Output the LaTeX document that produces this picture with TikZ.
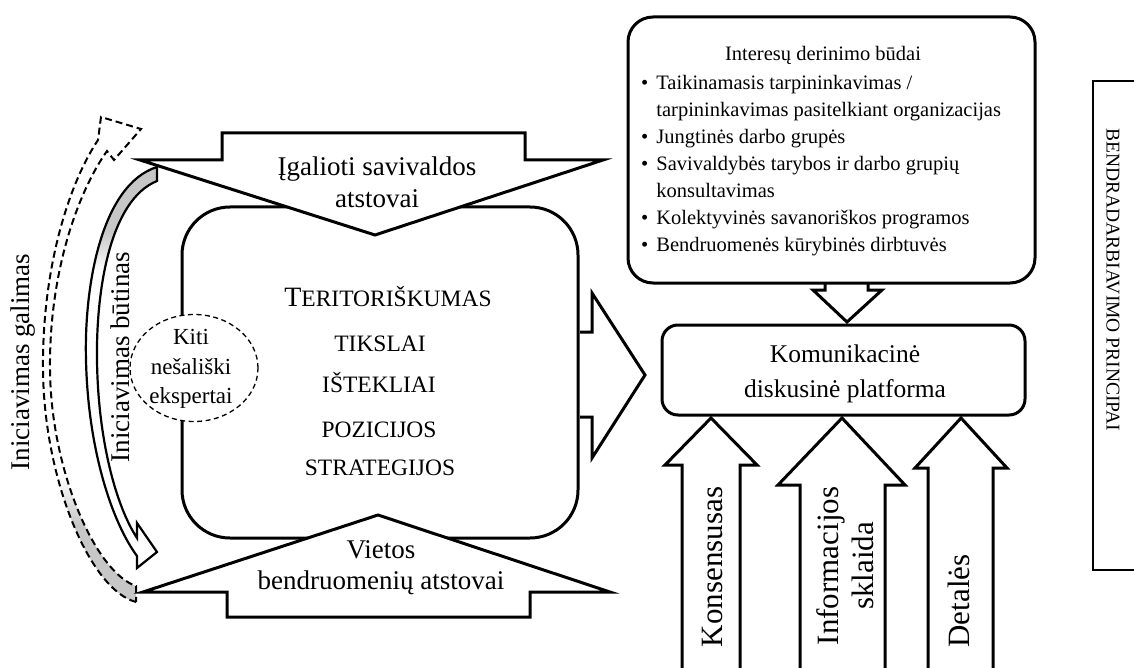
\documentclass[tikz,border=0pt]{standalone}
\usepackage{fontspec}
\setmainfont{Liberation Serif}
\usetikzlibrary{shapes.geometric}
\pgfdeclareverticalshading{solidfade}{100bp}{color(0bp)=(white); color(62bp)=(white); color(67bp)=(black!22); color(100bp)=(black!22)}
\pgfdeclareverticalshading{dashfade}{100bp}{color(0bp)=(black!22); color(33bp)=(black!22); color(38bp)=(white); color(100bp)=(white)}
\newcommand{\fs}[2]{\fontsize{#1}{#2}\selectfont}
\begin{document}
\begin{tikzpicture}[x=1pt,y=-1pt,
  blk/.style={draw=black, line width=3pt, fill=white, line join=miter},
  boxstyle/.style={draw=black, line width=3pt, fill=white, inner sep=0pt},
  txt/.style={inner sep=0pt, text=black},
  dsh/.style={draw=black, line width=2pt, dash pattern=on 7pt off 4pt}]
\useasboundingbox (0,0) rectangle (1134,668);

% ---- left curved arrows
\shadedraw[shading=solidfade, line width=2.2pt, line join=miter]
  (157,167) .. controls (100,185) and (84,290) .. (86,360)
  .. controls (88,450) and (112,522) .. (137,556)
  -- (137,568) -- (157,552) -- (137,523) -- (137,538)
  .. controls (116,506) and (98,440) .. (97,360)
  .. controls (96,290) and (110,200) .. (157,181) -- cycle;

\shade[shading=dashfade]
  (136,602) .. controls (90,590) and (44,480) .. (43,370)
  .. controls (42,270) and (68,185) .. (98,140)
  -- (101,117) -- (141,129) -- (114,160) -- (107,151)
  .. controls (78,192) and (49,272) .. (50,370)
  .. controls (51,470) and (95,572) .. (136,586) -- cycle;
\draw[dsh]
  (136,602) .. controls (90,590) and (44,480) .. (43,370)
  .. controls (42,270) and (68,185) .. (98,140)
  -- (101,117) -- (141,129) -- (114,160) -- (107,151)
  .. controls (78,192) and (49,272) .. (50,370)
  .. controls (51,470) and (95,572) .. (136,586) -- cycle;

\node[txt, rotate=90, font=\fs{27}{32}] (galimas) at (23,362) {Iniciavimas galimas};
\node[txt, rotate=90, font=\fs{27}{32}] (butinas) at (120,357) {Iniciavimas būtinas};

% ---- central box
\node[boxstyle, rounded corners=48pt, minimum width=396pt, minimum height=331pt] (core) at (380,372.5) {};

\node[txt, anchor=base] (t1) at (388,306) {\fs{28}{30}T\fs{23.5}{26}ERITORIŠKUMAS};
\node[txt, anchor=base, font=\fs{23.5}{26}] (t2) at (380,351) {TIKSLAI};
\node[txt, anchor=base, font=\fs{23.5}{26}] (t3) at (379,392) {IŠTEKLIAI};
\node[txt, anchor=base, font=\fs{23.5}{26}] (t4) at (379,437) {POZICIJOS};
\node[txt, anchor=base, font=\fs{23.5}{26}] (t5) at (380,475) {STRATEGIJOS};

% ---- top and bottom block arrows
\draw[blk] (222,133) -- (525,133) -- (525,160) -- (603,160) -- (375,235)
  -- (140,160) -- (222,160) -- cycle;
\node[txt, align=center, font=\fs{27}{32}] (igal) at (377,182) {Įgalioti savivaldos\\atstovai};

\draw[blk] (378,515) -- (610,592) -- (530,592) -- (530,617) -- (227,617)
  -- (227,592) -- (143,592) -- cycle;
\node[txt, align=center, font=\fs{27}{31}] (viet) at (381,568) {Vietos\\bendruomenių atstovai};

% ---- experts ellipse
\node[ellipse, draw=black, fill=white, line width=1.3pt, dash pattern=on 5pt off 3.5pt,
  minimum width=128pt, minimum height=107pt, inner sep=0pt] (kiti) at (194,368) {};
\node[txt, align=center, font=\fs{23}{29.5}] (kitiT) at (191,369) {Kiti\\nešališki\\ekspertai};

% ---- right block arrow
\draw[blk] (580,332) -- (592,332) -- (592,293) -- (645,375) -- (592,458)
  -- (592,417) -- (580,417);

% ---- top right box with arrow down
\draw[blk] (825,281) -- (825,290) -- (813,290) -- (847,322) -- (882,290)
  -- (868,290) -- (868,281);
\node[boxstyle, rounded corners=25pt, minimum width=407pt, minimum height=266pt] (modes) at (831.5,150) {};
\node[txt, anchor=base, font=\fs{20.5}{27}] (modesH) at (823,61) {Interesų derinimo būdai};
\node[txt, anchor=north west, font=\fs{20.5}{27}] (modesL) at (641,70) {%
  \begin{tabular}{@{}l@{\hspace{8pt}}l@{}}
  \textbullet & Taikinamasis tarpininkavimas /\\
   & tarpininkavimas pasitelkiant organizacijas\\
  \textbullet & Jungtinės darbo grupės\\
  \textbullet & Savivaldybės tarybos ir darbo grupių\\
   & konsultavimas\\
  \textbullet & Kolektyvinės savanoriškos programos\\
  \textbullet & Bendruomenės kūrybinės dirbtuvės
  \end{tabular}};

% ---- up arrows
\draw[blk] (682,672) -- (682,465) -- (665,465) -- (711,418) -- (757,465)
  -- (740,465) -- (740,672);
\draw[blk] (800,672) -- (800,485) -- (778,485) -- (842,418) -- (905,485)
  -- (885,485) -- (885,672);
\draw[blk] (928,672) -- (928,468) -- (915,468) -- (961,418) -- (1007,468)
  -- (993,468) -- (993,672);
\node[txt, rotate=90, font=\fs{31}{35}] (kons) at (712,567) {Konsensusas};
\node[txt, rotate=90, align=center, font=\fs{31}{35}] (info) at (845,566) {Informacijos\\sklaida};
\node[txt, rotate=90, font=\fs{31}{35}] (det) at (959,601) {Detalės};

% ---- platform
\node[boxstyle, rounded corners=16pt, minimum width=363pt, minimum height=90pt] (plat) at (843.5,370) {};
\node[txt, align=center, font=\fs{25.5}{35}] (platT) at (845,374) {Komunikacinė\\diskusinė platforma};

% ---- principles bracket
\draw[line width=1.2pt] (1136,81) -- (1093,81) -- (1093,570) -- (1136,570);
\node[txt, rotate=-90, font=\fs{19.5}{24}] (princ) at (1113,280) {BENDRADARBIAVIMO PRINCIPAI};
\end{tikzpicture}
\end{document}
